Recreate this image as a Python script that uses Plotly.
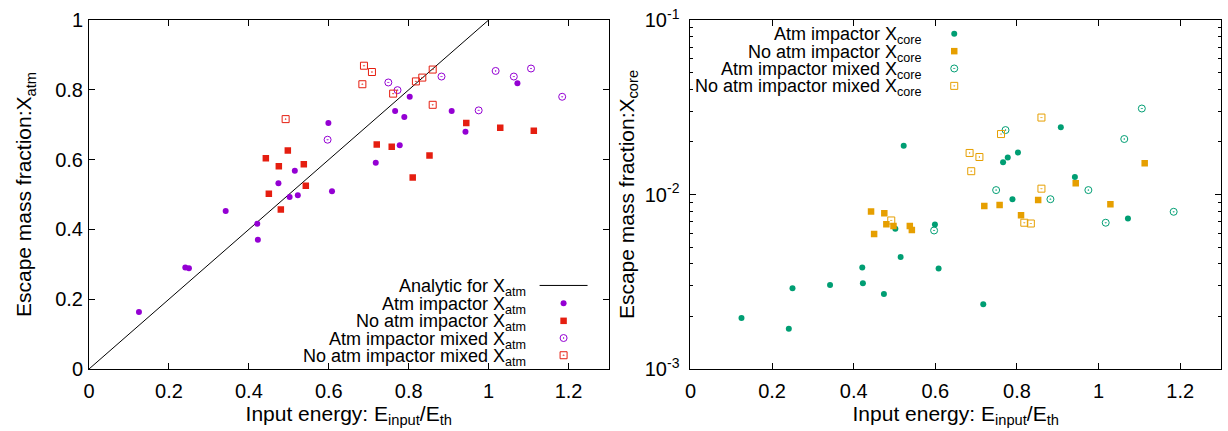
import plotly.graph_objects as go

# ---------------- data ----------------
atm_imp_e = [0.125, 0.241, 0.25, 0.342, 0.421, 0.4225, 0.474, 0.502, 0.515, 0.5225,
             0.599, 0.608, 0.7175, 0.766, 0.7775, 0.789, 0.8025, 0.9075, 0.942, 1.072]
atm_imp_xatm = [0.163, 0.291, 0.289, 0.453, 0.416, 0.370, 0.532, 0.493, 0.568, 0.498,
                0.705, 0.509, 0.591, 0.739, 0.641, 0.722, 0.780, 0.739, 0.680, 0.819]
atm_imp_xcore = [1.96e-3, 1.70e-3, 2.90e-3, 3.03e-3, 3.82e-3, 3.10e-3, 2.69e-3, 6.37e-3, 4.39e-3, 1.90e-2,
                 6.73e-3, 3.77e-3, 2.35e-3, 1.53e-2, 1.63e-2, 9.4e-3, 1.74e-2, 2.43e-2, 1.26e-2, 7.28e-3]

noatm_imp_e = [0.4425, 0.45, 0.475, 0.48, 0.4975, 0.5375, 0.5425, 0.72, 0.7575, 0.81,
               0.852, 0.944, 1.029, 1.113]
noatm_imp_xatm = [0.604, 0.502, 0.581, 0.457, 0.626, 0.587, 0.525, 0.643, 0.637, 0.549,
                  0.612, 0.705, 0.691, 0.683]
noatm_imp_xcore = [8.0e-3, 5.94e-3, 7.8e-3, 6.76e-3, 6.6e-3, 6.6e-3, 6.25e-3, 8.6e-3, 8.7e-3, 7.6e-3,
                   9.3e-3, 1.16e-2, 8.8e-3, 1.51e-2]

atm_mix_e = [0.597, 0.749, 0.772, 0.882, 0.975, 1.0175, 1.063, 1.106, 1.184]
atm_mix_xatm = [0.657, 0.821, 0.799, 0.838, 0.741, 0.854, 0.838, 0.861, 0.780]
atm_mix_xcore = [6.22e-3, 1.06e-2, 2.34e-2, 9.4e-3, 1.06e-2, 6.89e-3, 2.08e-2, 3.11e-2, 7.96e-3]

noatm_mix_e = [0.492, 0.684, 0.688, 0.708, 0.761, 0.818, 0.834, 0.860, 0.860]
noatm_mix_xatm = [0.716, 0.816, 0.869, 0.851, 0.789, 0.824, 0.835, 0.858, 0.757]
noatm_mix_xcore = [7.1e-3, 1.73e-2, 1.36e-2, 1.64e-2, 2.22e-2, 6.89e-3, 6.82e-3, 2.76e-2, 1.08e-2]

analytic_e = [0.0, 1.3]
analytic_xatm = [0.0, 1.3]

x_ticks = [0, 0.2, 0.4, 0.6, 0.8, 1.0, 1.2]
x_ticktext = ["0", "0.2", "0.4", "0.6", "0.8", "1", "1.2"]
yl_ticks = [0, 0.2, 0.4, 0.6, 0.8, 1.0]
yl_ticktext = ["0", "0.2", "0.4", "0.6", "0.8", "1"]
yr_ticks = [1e-3, 1e-2, 1e-1]
yr_ticktext = ["10<sup>-3</sup>", "10<sup>-2</sup>", "10<sup>-1</sup>"]
yr_minor = [m * 10 ** e for e in (-3, -2) for m in range(2, 10)]

left_legend = ["Analytic for X<sub>atm</sub>", "Atm impactor X<sub>atm</sub>",
               "No atm impactor X<sub>atm</sub>", "Atm impactor mixed X<sub>atm</sub>",
               "No atm impactor mixed X<sub>atm</sub>"]
right_legend = ["Atm impactor X<sub>core</sub>", "No atm impactor X<sub>core</sub>",
                "Atm impactor mixed X<sub>core</sub>", "No atm impactor mixed X<sub>core</sub>"]

# ---------------- styles ----------------
PURPLE = "#9400d3"
RED = "#e51e10"
GREEN = "#009e73"
ORANGE = "#e69f00"
FONT = "Liberation Sans, Arial, sans-serif"
TICK_FS = 20
TITLE_FS = 21
LEG_FS = 18

W, H = 1228, 431
L, R, T, B = 89, 6, 14, 62
PW = W - L - R
left_dom = [0, (609 - L) / PW]
right_dom = [(691 - L) / PW, 1]

fig = go.Figure()

def mk(symbol, color, size):
    if "open" in symbol:
        return dict(symbol=symbol, size=size, color=color, line=dict(color=color, width=1))
    return dict(symbol=symbol, size=size, color=color, line=dict(width=0))

# left panel
fig.add_trace(go.Scatter(x=analytic_e, y=analytic_xatm, mode="lines",
                         line=dict(color="black", width=1), xaxis="x", yaxis="y", showlegend=False))
fig.add_trace(go.Scatter(x=atm_imp_e, y=atm_imp_xatm, mode="markers", marker=mk("circle", PURPLE, 6),
                         xaxis="x", yaxis="y", showlegend=False))
fig.add_trace(go.Scatter(x=noatm_imp_e, y=noatm_imp_xatm, mode="markers", marker=mk("square", RED, 6.5),
                         xaxis="x", yaxis="y", showlegend=False))
fig.add_trace(go.Scatter(x=atm_mix_e, y=atm_mix_xatm, mode="markers", marker=mk("circle-open-dot", PURPLE, 7),
                         xaxis="x", yaxis="y", showlegend=False))
fig.add_trace(go.Scatter(x=noatm_mix_e, y=noatm_mix_xatm, mode="markers", marker=mk("square-open-dot", RED, 7),
                         xaxis="x", yaxis="y", showlegend=False))

# right panel
fig.add_trace(go.Scatter(x=atm_imp_e, y=atm_imp_xcore, mode="markers", marker=mk("circle", GREEN, 6),
                         xaxis="x2", yaxis="y2", showlegend=False))
fig.add_trace(go.Scatter(x=noatm_imp_e, y=noatm_imp_xcore, mode="markers", marker=mk("square", ORANGE, 6.5),
                         xaxis="x2", yaxis="y2", showlegend=False))
fig.add_trace(go.Scatter(x=atm_mix_e, y=atm_mix_xcore, mode="markers", marker=mk("circle-open-dot", GREEN, 7),
                         xaxis="x2", yaxis="y2", showlegend=False))
fig.add_trace(go.Scatter(x=noatm_mix_e, y=noatm_mix_xcore, mode="markers", marker=mk("square-open-dot", ORANGE, 7),
                         xaxis="x2", yaxis="y2", showlegend=False))

# ---------------- custom legends (pixel overlay axis) ----------------
left_rows = [284, 302, 320, 337.5, 355]
right_rows = [28, 45.7, 63.3, 81]
left_text_x, left_sym_x = 528, 564
right_text_x, right_sym_x = 925, 955

fig.add_trace(go.Scatter(x=[540, 588], y=[left_rows[0]] * 2, mode="lines",
                         line=dict(color="black", width=1), xaxis="x3", yaxis="y3", showlegend=False,
                         hoverinfo="skip"))
left_syms = [mk("circle", PURPLE, 6), mk("square", RED, 6.5),
             mk("circle-open-dot", PURPLE, 7), mk("square-open-dot", RED, 7)]
for yy, m in zip(left_rows[1:], left_syms):
    fig.add_trace(go.Scatter(x=[left_sym_x], y=[yy], mode="markers", marker=m,
                             xaxis="x3", yaxis="y3", showlegend=False, hoverinfo="skip"))
right_syms = [mk("circle", GREEN, 6), mk("square", ORANGE, 6.5),
              mk("circle-open-dot", GREEN, 7), mk("square-open-dot", ORANGE, 7)]
for yy, m in zip(right_rows, right_syms):
    fig.add_trace(go.Scatter(x=[right_sym_x], y=[yy], mode="markers", marker=m,
                             xaxis="x3", yaxis="y3", showlegend=False, hoverinfo="skip"))

annotations = []
for yy, t in zip(left_rows, left_legend):
    annotations.append(dict(x=left_text_x, y=yy + 2, xref="x3", yref="y3", text=t, showarrow=False,
                            xanchor="right", yanchor="middle",
                            font=dict(size=LEG_FS, color="black", family=FONT)))
for yy, t in zip(right_rows, right_legend):
    annotations.append(dict(x=right_text_x, y=yy + 2, xref="x3", yref="y3", text=t, showarrow=False,
                            xanchor="right", yanchor="middle",
                            font=dict(size=LEG_FS, color="black", family=FONT)))

axis_common = dict(showline=True, linecolor="black", linewidth=1, mirror="ticks", ticks="inside",
                   ticklen=6, tickcolor="black", tickwidth=1, showgrid=False, zeroline=False,
                   tickfont=dict(size=TICK_FS, color="black", family=FONT))

xtitle = dict(text="Input energy: E<sub>input</sub>/E<sub>th</sub>",
              font=dict(size=TITLE_FS, family=FONT, color="black"), standoff=2)

fig.update_layout(
    width=W, height=H,
    margin=dict(l=L, r=R, t=T, b=B),
    paper_bgcolor="white", plot_bgcolor="rgba(0,0,0,0)",
    font=dict(family=FONT, size=TICK_FS, color="black"),
    xaxis=dict(domain=left_dom, range=[0, 1.3], tickvals=x_ticks, ticktext=x_ticktext, anchor="y",
               title=xtitle, ticklabelstandoff=4, **axis_common),
    yaxis=dict(domain=[0, 1], range=[0, 1], tickvals=yl_ticks, ticktext=yl_ticktext, anchor="x",
               title=dict(text="Escape mass fraction:X<sub>atm</sub>",
                          font=dict(size=TITLE_FS, family=FONT, color="black"), standoff=17),
               ticklabelstandoff=1, **axis_common),
    xaxis2=dict(domain=right_dom, range=[0, 1.3], tickvals=x_ticks, ticktext=x_ticktext, anchor="y2",
                title=xtitle, ticklabelstandoff=4, **axis_common),
    yaxis2=dict(domain=[0, 1], type="log", range=[-3, -1], tickvals=yr_ticks, ticktext=yr_ticktext,
                anchor="x2",
                minor=dict(tickvals=yr_minor, ticks="inside", ticklen=3, tickcolor="black", showgrid=False),
                title=dict(text="Escape mass fraction:X<sub>core</sub>",
                           font=dict(size=TITLE_FS, family=FONT, color="black"), standoff=4),
                ticklabelstandoff=6, **axis_common),
    xaxis3=dict(domain=[0, 1], range=[L, W - R], visible=False, anchor="y3", fixedrange=True),
    yaxis3=dict(domain=[0, 1], range=[H - B, T], visible=False, anchor="x3", fixedrange=True),
    annotations=annotations,
)

fig.write_html("out.html")
